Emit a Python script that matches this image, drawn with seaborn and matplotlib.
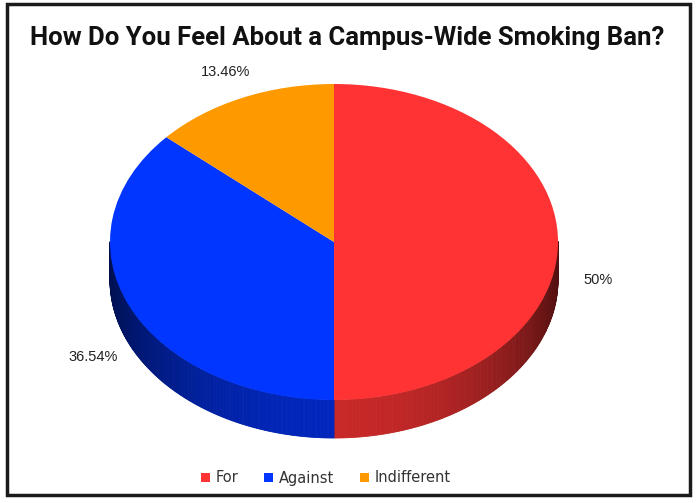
import numpy as np
import seaborn as sns
import matplotlib
matplotlib.use("Agg")
import matplotlib.pyplot as plt
from matplotlib.patches import Polygon, Rectangle
from matplotlib.colors import to_rgb

# data
categories = ["For", "Against", "Indifferent"]
shares = [50, 36.54, 13.46]
share_labels = ["50%", "36.54%", "13.46%"]
slice_colors = ["#ff3333", "#0036ff", "#ff9900"]
side_base = ["#ff3333", "#0030f0", "#ff9900"]

sns.set_theme(style="white")

W, H = 697, 503
fig = plt.figure(figsize=(W / 100, H / 100), dpi=100)
ax = fig.add_axes([0, 0, 1, 1])

# pie geometry in pixels (top face ellipse)
cx, cy, a, b, depth_px = 334, 242, 224, 158, 38
depth = depth_px / b

wedges, texts = ax.pie(
    shares, colors=slice_colors, startangle=90, counterclock=False,
    labels=share_labels, labeldistance=1.18,
    wedgeprops=dict(linewidth=0, zorder=3),
    textprops=dict(ha="center", va="center", fontsize=10.5,
                   family="Liberation Sans", color="#222222"),
)

# side wall of the pie, drawn from the wedge angles
for w, base in zip(wedges, side_base):
    segs = np.linspace(w.theta1, w.theta2, 300)
    rgb = np.array(to_rgb(base))
    for s1, s2 in zip(segs[:-1], segs[1:]):
        mid = np.deg2rad((s1 + s2) / 2)
        if np.sin(mid) > 0:
            continue
        f = 0.32 + 0.46 * abs(np.sin(mid)) ** 1.5
        r1, r2 = np.deg2rad(s1), np.deg2rad(s2)
        pts = [(np.cos(r1), np.sin(r1)), (np.cos(r2), np.sin(r2)),
               (np.cos(r2), np.sin(r2) - depth), (np.cos(r1), np.sin(r1) - depth)]
        ax.add_patch(Polygon(pts, closed=True, fc=rgb * f, ec=rgb * f,
                             lw=0.6, zorder=2))

# move the labels below the rim down by the wall height
for t in texts:
    x, y = t.get_position()
    if y < 0.05:
        t.set_position((x, y - depth))

ax.set_aspect("auto")
ax.set_xlim(-cx / a, (W - cx) / a)
ax.set_ylim((cy - H) / b, cy / b)
ax.axis("off")

fig.text(347 / W, 1 - 38 / H, "How Do You Feel About a Campus-Wide Smoking Ban?",
         ha="center", va="center", fontsize=18.5, fontweight="bold",
         family="Roboto", color="#111111")

leg = fig.legend(wedges, categories, loc="center", ncol=3,
                 bbox_to_anchor=(326 / W, 1 - 478 / H), frameon=False,
                 handlelength=0.6, handleheight=0.6, handletextpad=0.4,
                 columnspacing=1.8, prop=dict(family="DejaVu Sans", size=10.5))
for txt in leg.get_texts():
    txt.set_color("#333333")

fig.patches.append(Rectangle((7 / W, 1 - 495 / H), 683 / W, 491 / H,
                             transform=fig.transFigure, fill=False,
                             ec="#1a1a1a", lw=2.5))

fig.savefig("out.png", dpi=100, facecolor="white")
